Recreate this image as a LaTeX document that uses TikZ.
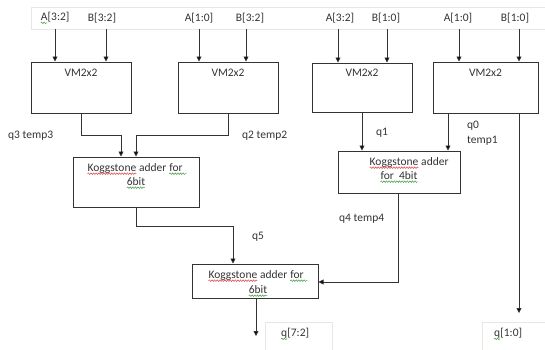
\documentclass[tikz,border=0pt]{standalone}
\usepackage{fontspec}
\setmainfont{Carlito}
\usetikzlibrary{arrows.meta,decorations.pathmorphing}
\definecolor{ink}{HTML}{333333}
\definecolor{faint}{HTML}{E8E8E0}
\definecolor{spellred}{HTML}{E04040}
\definecolor{spellgreen}{HTML}{3C9C3C}

% wavy proofing underline below a word
\newcommand\squig[2]{\tikz[baseline=(sqw.base)]{%
  \node[inner sep=0pt, outer sep=0pt, draw=none, fill=none] (sqw) {#2};
  \draw[#1, line width=0.5pt, decorate,
        decoration={snake, amplitude=0.8pt, segment length=2.6pt}]
    ([yshift=-2.4pt]sqw.base west) -- ([yshift=-2.4pt]sqw.base east);}}

\tikzset{
  every node/.style={font=\fontsize{11.5}{14}\selectfont, text=ink},
  blockbox/.style={draw=ink, line width=1pt, inner sep=0pt},
  txt/.style={inner sep=0pt},
  wire/.style={draw=ink, line width=0.8pt},
  arr/.style={wire, -{Triangle[length=5pt,width=5pt]}},
  pale/.style={draw=faint, line width=0.8pt, inner sep=0pt},
}

\begin{document}
\begin{tikzpicture}[x=1pt, y=-1pt]
\useasboundingbox (0,0) rectangle (545,349);

% input strip
\node[pale, minimum width=516pt, minimum height=22pt, anchor=north west] (band) at (31,7) {};
\node[txt] (a1) at (55,18) {\squig{spellgreen}{A}[3:2]};
\node[txt] (b1) at (102,18) {B[3:2]};
\node[txt] (a2) at (199,18) {A[1:0]};
\node[txt] (b2) at (250,18) {B[3:2]};
\node[txt] (a3) at (340,18) {A[3:2]};
\node[txt] (b3) at (386,18) {B[1:0]};
\node[txt] (a4) at (458,18) {A[1:0]};
\node[txt] (b4) at (515,18) {B[1:0]};

% 2x2 multipliers
\node[blockbox, minimum width=100pt, minimum height=51pt] (vm1) at (81,87.5) {};
\node[blockbox, minimum width=100pt, minimum height=51pt] (vm2) at (228,87.5) {};
\node[blockbox, minimum width=100pt, minimum height=49pt] (vm3) at (362,87.5) {};
\node[blockbox, minimum width=105pt, minimum height=51pt] (vm4) at (485.5,87.5) {};
\node[txt] (t1) at (81,73) {VM2x2};
\node[txt] (t2) at (228,73) {VM2x2};
\node[txt] (t3) at (362,73) {VM2x2};
\node[txt] (t4) at (485.5,73) {VM2x2};

% Kogge-Stone adders
\node[blockbox, minimum width=126pt, minimum height=50pt] (k1) at (136,182) {};
\node[txt] at (137,169) {\squig{spellred}{Koggstone} adder \squig{spellgreen}{for\,\,}};
\node[txt] at (136,183) {\squig{spellgreen}{6bit}};

\node[blockbox, minimum width=122pt, minimum height=42pt] (k2) at (399,172) {};
\node[txt] at (409,163) {\squig{spellred}{Koggstone} adder};
\node[txt] at (399,177) {\squig{spellgreen}{for\ \ 4bit}};

\node[blockbox, minimum width=126pt, minimum height=34pt] (k3) at (255,281) {};
\node[txt] at (258,276) {\squig{spellred}{Koggstone} adder \squig{spellgreen}{for\,\,}};
\node[txt] at (258,291) {\squig{spellgreen}{6bit}};

% outputs
\node[pale, minimum width=67pt, minimum height=30pt, anchor=north west] (o1) at (265,322) {};
\node[txt] at (295,334) {\squig{spellgreen}{q}[7:2]};
\node[pale, minimum width=66pt, minimum height=30pt, anchor=north west] (o2) at (482,322) {};
\node[txt] at (508,334) {\squig{spellgreen}{q}[1:0]};

% signal labels
\node[txt, anchor=west] (l3) at (8,136) {q3 temp3};
\node[txt, anchor=west] (l2) at (242,136) {q2 temp2};
\node[txt, anchor=west] (l1) at (376,133) {q1};
\node[txt, anchor=west] (l0) at (467,126) {q0};
\node[txt, anchor=west] (l0b) at (467,141) {temp1};
\node[txt, anchor=west] (l4) at (339,219) {q4 temp4};
\node[txt, anchor=west] (l5) at (252,237) {q5};

% input arrow columns
\coordinate (c1) at (55,29);
\coordinate (c2) at (106,29);
\coordinate (c3) at (199,29);
\coordinate (c4) at (246,29);
\coordinate (c5) at (338,29);
\coordinate (c6) at (387,29);
\coordinate (c7) at (459,29);
\coordinate (c8) at (519,29);
\draw[arr] (c1) -- (c1 |- vm1.north);
\draw[arr] (c2) -- (c2 |- vm1.north);
\draw[arr] (c3) -- (c3 |- vm2.north);
\draw[arr] (c4) -- (c4 |- vm2.north);
\draw[arr] (c5) -- (c5 |- vm3.north);
\draw[arr] (c6) -- (c6 |- vm3.north);
\draw[arr] (c7) -- (c7 |- vm4.north);
\draw[arr] (c8) -- (c8 |- vm4.north);

% partial products into the adders
\draw[arr] (vm1.south) -- ++(0,22) -| ([xshift=-15pt]k1.north);
\draw[arr] (vm2.south) -- ++(0,22) -| (k1.north);
\draw[arr] (vm3.south) -- (vm3.south |- k2.north);
\coordinate (q0src) at (448,113);
\draw[arr] (q0src) -- (q0src |- k2.north);

% low bits straight through
\coordinate (lowsrc) at (519,113);
\coordinate (lowend) at (519,313);
\draw[arr] (lowsrc) -- (lowend);

% adder outputs
\draw[arr] (k1.south) -- ++(0,19) -| ([xshift=-22pt]k3.north);
\draw[arr] ([xshift=-1pt]k2.south) |- ([yshift=-1pt]k3.east);
\coordinate (hiend) at (256,336);
\draw[arr] ([xshift=1pt]k3.south) -- (hiend);
\end{tikzpicture}
\end{document}
